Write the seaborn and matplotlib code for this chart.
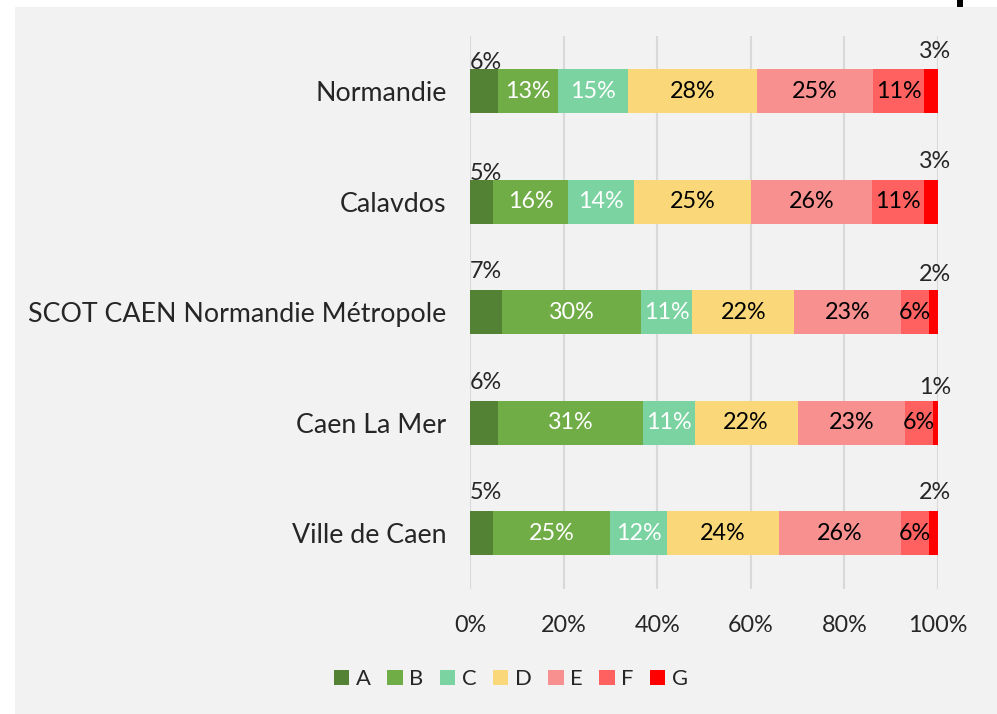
import matplotlib
matplotlib.use("Agg")
import matplotlib.pyplot as plt
from matplotlib.patches import Patch, Rectangle
import seaborn as sns
import numpy as np

# data (share of each grade, in %)
regions = ["Normandie", "Calavdos", "SCOT CAEN Normandie Métropole", "Caen La Mer", "Ville de Caen"]
grades = ["A", "B", "C", "D", "E", "F", "G"]
A = [6, 5, 7, 6, 5]
B = [13, 16, 30, 31, 25]
C = [15, 14, 11, 11, 12]
D = [28, 25, 22, 22, 24]
E = [25, 26, 23, 23, 26]
F = [11, 11, 6, 6, 6]
G = [3, 3, 2, 1, 2]

colors = ["#548235", "#70ad47", "#7bd3a2", "#fad87a", "#f89090", "#ff6161", "#ff0000"]
label_colors = ["black", "white", "white", "black", "black", "black", "black"]

sns.set_style("white")
plt.rcParams["font.family"] = ["Lato", "DejaVu Sans"]

vals = np.array([A, B, C, D, E, F, G], dtype=float)
# 100% stacked, like the original spreadsheet chart
shares = vals / vals.sum(axis=0) * 100
cum = shares.cumsum(axis=0)

fig = plt.figure(figsize=(9.97, 7.14), dpi=100)
fig.patch.set_facecolor("white")
fig.patches.append(Rectangle((15 / 997, 0), 1, 1 - 7 / 714, transform=fig.transFigure,
                             facecolor="#f2f2f2", edgecolor="none", zorder=-10))
fig.patches.append(Rectangle((957 / 997, 1 - 7 / 714), 6 / 997, 7 / 714, transform=fig.transFigure,
                             facecolor="black", edgecolor="none", zorder=-9))

ax = fig.add_axes([470 / 997, 1 - 588.5 / 714, 468 / 997, 552.5 / 714])
ax.set_facecolor("none")

# draw cumulative bars from the longest to the shortest so they stack
for k in range(len(grades) - 1, -1, -1):
    sns.barplot(x=cum[k], y=regions, color=colors[k], orient="h", width=0.4,
                errorbar=None, linewidth=0, saturation=1, ax=ax)

ax.set_xlim(0, 100)
ax.set_ylim(4.5, -0.5)
ax.set_xticks(range(0, 101, 20))
ax.set_xticklabels([f"{t}%" for t in range(0, 101, 20)])
ax.xaxis.grid(True, color="#d9d9d9", linewidth=1.5)
ax.set_axisbelow(True)
for s in ax.spines.values():
    s.set_visible(False)
ax.tick_params(axis="x", length=0, pad=19, labelsize=16.8)
ax.tick_params(axis="y", length=0, pad=17, labelsize=19.3)
ax.set_xlabel("")
ax.set_ylabel("")

# labels inside the bars (B to F)
for k in range(1, 6):
    for i in range(len(regions)):
        mid = cum[k][i] - shares[k][i] / 2
        ax.text(mid, i, f"{int(vals[k][i])}%", ha="center", va="center",
                fontsize=16.8, color=label_colors[k])

# A and G labels sit above the bar ends
a_lift = [0, 0, 12, 12, 12]
g_lift = [11, 12, 9, 7, 12]
for i in range(len(regions)):
    ax.annotate(f"{A[i]}%", (0, i - 0.2), xytext=(0, a_lift[i] * 0.72), textcoords="offset points",
                ha="left", va="baseline", fontsize=16.8)
    ax.annotate(f"{G[i]}%", (100, i - 0.2), xytext=(-3 * 0.72, g_lift[i] * 0.72),
                textcoords="offset points", ha="center", va="baseline", fontsize=16.8)

handles = [Patch(facecolor=c, edgecolor="none", label=g) for g, c in zip(grades, colors)]
fig.legend(handles=handles, loc="center", bbox_to_anchor=(511 / 997, 1 - 679 / 714), ncol=7,
           frameon=False, fontsize=15.8, handlelength=0.7, handleheight=0.7,
           handletextpad=0.3, columnspacing=0.75, borderpad=0)

fig.savefig("out.png", dpi=100)
